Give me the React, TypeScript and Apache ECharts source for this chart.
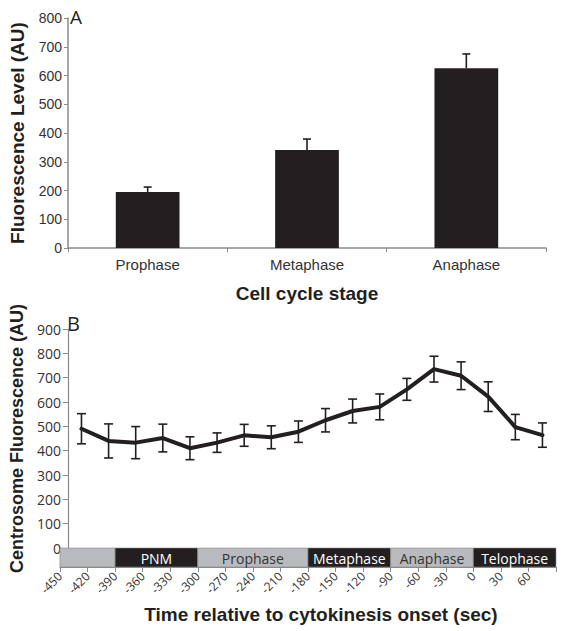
import React, { useEffect, useRef } from "react";
import * as echarts from "echarts";

// Panel A data
const stageCategories = ["Prophase", "Metaphase", "Anaphase"];
const stageMeans = [195, 341, 625];
const stageErrors = [17, 38, 50];

// Panel B data
const timePoints = [-435, -405, -375, -345, -315, -285, -255, -225, -195, -165, -135, -105, -75, -45, -15, 15, 45, 75];
const centrosomeMeans = [490, 440, 433, 452, 410, 433, 463, 455, 478, 525, 563, 580, 652, 735, 708, 622, 497, 464];
const centrosomeErrors = [62, 70, 66, 57, 47, 40, 45, 47, 44, 48, 49, 53, 45, 53, 57, 61, 52, 50];

// Phase bar
const phaseNames = ["", "PNM", "Prophase", "Metaphase", "Anaphase", "Telophase"];
const phaseStarts = [-450, -390, -300, -180, -90, 0];
const phaseEnds = [-390, -300, -180, -90, 0, 90];
const phaseDark = [false, true, false, true, false, true];

const INK = "#231f20";
const AXIS = "#8a8a8a";
const LABEL = "#333333";
const SANS = "'Liberation Sans', Arial, sans-serif";
const MYRIAD = "'Open Sans', 'Noto Sans', sans-serif";

export default function App() {
  const ref = useRef<HTMLDivElement>(null);

  useEffect(() => {
    if (!ref.current) return;
    const chart = echarts.init(ref.current, undefined, { renderer: "svg" });

    const errorRender = (capHalf: number, upOnly: boolean) => (params: any, api: any) => {
      const x = api.value(0);
      const m = api.value(1);
      const e = api.value(2);
      const lo = upOnly ? m : m - e;
      const pTop = api.coord([x, m + e]);
      const pBot = api.coord([x, lo]);
      const children: any[] = [
        { type: "line", shape: { x1: pTop[0], y1: pTop[1], x2: pBot[0], y2: pBot[1] }, style: { stroke: INK, lineWidth: 1.6 } },
        { type: "line", shape: { x1: pTop[0] - capHalf, y1: pTop[1], x2: pTop[0] + capHalf, y2: pTop[1] }, style: { stroke: INK, lineWidth: 1.6 } },
      ];
      if (!upOnly) {
        children.push({ type: "line", shape: { x1: pBot[0] - capHalf, y1: pBot[1], x2: pBot[0] + capHalf, y2: pBot[1] }, style: { stroke: INK, lineWidth: 1.6 } });
      }
      return { type: "group", children };
    };

    const option: any = {
      animation: false,
      backgroundColor: "#ffffff",
      grid: [
        { left: 60, top: 18, width: 486, height: 230 },
        { left: 60, top: 329, width: 496, height: 219 },
        { left: 60, top: 548, width: 496, height: 19 },
      ],
      xAxis: [
        {
          gridIndex: 0,
          type: "category",
          data: stageCategories,
          axisLine: { lineStyle: { color: AXIS, width: 1.5 } },
          axisTick: { show: true, length: 4, lineStyle: { color: AXIS } },
          axisLabel: { color: LABEL, fontSize: 15, fontFamily: SANS, margin: 9 },
          name: "Cell cycle stage",
          nameLocation: "middle",
          nameGap: 36,
          nameTextStyle: { color: INK, fontSize: 19, fontWeight: "bold", fontFamily: SANS },
        },
        { gridIndex: 1, type: "value", min: -450, max: 90, interval: 30, show: false },
        {
          gridIndex: 2,
          type: "value",
          min: -450,
          max: 90,
          interval: 30,
          splitLine: { show: false },
          axisLine: { onZero: false, lineStyle: { color: AXIS, width: 1.2 } },
          axisTick: { show: true, length: 5, lineStyle: { color: AXIS } },
          axisLabel: {
            color: LABEL,
            fontSize: 12,
            fontFamily: MYRIAD,
            rotate: 45,
            margin: 7,
            formatter: (v: number) => (v >= 90 ? "" : String(v)),
          },
          name: "Time relative to cytokinesis onset (sec)",
          nameLocation: "middle",
          nameGap: 38,
          nameTextStyle: { color: INK, fontSize: 19, fontWeight: "bold", fontFamily: SANS, padding: [0, 0, 0, 26] },
        },
      ],
      yAxis: [
        {
          gridIndex: 0,
          type: "value",
          min: 0,
          max: 800,
          interval: 100,
          splitLine: { show: false },
          axisLine: { show: true, onZero: false, lineStyle: { color: AXIS, width: 1.5 } },
          axisTick: { show: true, length: 4, lineStyle: { color: AXIS } },
          axisLabel: { color: LABEL, fontSize: 14, fontFamily: SANS, margin: 6 },
          name: "Fluorescence Level (AU)",
          nameLocation: "middle",
          nameGap: 41,
          nameTextStyle: { color: INK, fontSize: 19, fontWeight: "bold", fontFamily: SANS },
        },
        {
          gridIndex: 1,
          type: "value",
          min: 0,
          max: 900,
          interval: 100,
          splitLine: { show: false },
          axisLine: { show: true, onZero: false, lineStyle: { color: AXIS, width: 1.2 } },
          axisTick: { show: true, length: 5, lineStyle: { color: AXIS } },
          axisLabel: { color: LABEL, fontSize: 14, fontFamily: MYRIAD, margin: 7 },
          name: "Centrosome Fluorescence (AU)",
          nameLocation: "middle",
          nameGap: 40,
          nameTextStyle: { color: INK, fontSize: 18, fontWeight: "bold", fontFamily: SANS, padding: [0, 0, 0, 0] },
        },
        {
          gridIndex: 2,
          type: "value",
          min: 0,
          max: 1,
          splitLine: { show: false },
          axisLine: { show: true, onZero: false, lineStyle: { color: AXIS, width: 1.2 } },
          axisTick: { show: false },
          axisLabel: { show: false },
        },
      ],
      graphic: [
        { type: "text", left: 70, top: 7, style: { text: "A", fontSize: 19, fontFamily: MYRIAD, fill: INK } },
        { type: "text", left: 67, top: 313, style: { text: "B", fontSize: 20, fontFamily: MYRIAD, fill: INK } },
      ],
      series: [
        {
          type: "bar",
          xAxisIndex: 0,
          yAxisIndex: 0,
          data: stageMeans,
          barWidth: "40%",
          itemStyle: { color: INK },
          z: 2,
        },
        {
          type: "custom",
          xAxisIndex: 0,
          yAxisIndex: 0,
          data: stageCategories.map((_, i) => [i, stageMeans[i], stageErrors[i]]),
          encode: { x: 0, y: 1 },
          renderItem: errorRender(4, true),
          z: 3,
        },
        {
          type: "custom",
          xAxisIndex: 1,
          yAxisIndex: 1,
          data: timePoints.map((t, i) => [t, centrosomeMeans[i], centrosomeErrors[i]]),
          encode: { x: 0, y: 1 },
          renderItem: errorRender(4.5, false),
          z: 3,
        },
        {
          type: "line",
          xAxisIndex: 1,
          yAxisIndex: 1,
          data: timePoints.map((t, i) => [t, centrosomeMeans[i]]),
          showSymbol: false,
          lineStyle: { color: INK, width: 4, join: "round", cap: "round" },
          itemStyle: { color: INK },
          z: 4,
        },
        {
          type: "custom",
          xAxisIndex: 2,
          yAxisIndex: 2,
          data: phaseNames.map((_, i) => [phaseStarts[i], phaseEnds[i], 0, 1]),
          encode: { x: [0, 1], y: [2, 3] },
          renderItem: (params: any, api: any) => {
            const i = params.dataIndex;
            const p0 = api.coord([api.value(0), api.value(3)]);
            const p1 = api.coord([api.value(1), api.value(2)]);
            const dark = phaseDark[i];
            return {
              type: "group",
              children: [
                {
                  type: "rect",
                  shape: { x: p0[0], y: p0[1], width: p1[0] - p0[0], height: p1[1] - p0[1] },
                  style: { fill: dark ? INK : "#b9babe", stroke: "#8a8a8a", lineWidth: 0.6 },
                },
                {
                  type: "text",
                  style: {
                    text: phaseNames[i],
                    x: (p0[0] + p1[0]) / 2,
                    y: (p0[1] + p1[1]) / 2 + 1,
                    align: "center",
                    verticalAlign: "middle",
                    fill: dark ? "#ffffff" : LABEL,
                    fontSize: 14,
                    fontFamily: MYRIAD,
                  },
                },
              ],
            };
          },
          z: 2,
        },
      ],
    };

    chart.setOption(option);
    return () => chart.dispose();
  }, []);

  return <div ref={ref} style={{ position: "absolute", left: 0, top: 0, width: 562, height: 631 }} />;
}
